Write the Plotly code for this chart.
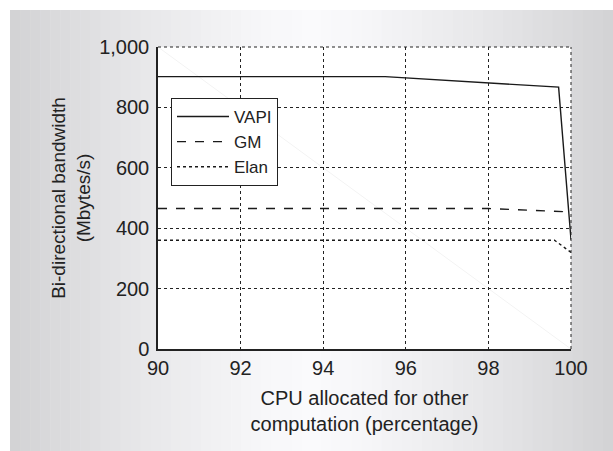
import plotly.graph_objects as go

# ---- data ----
vapi_x = [90, 95.5, 99.7, 100]
vapi_y = [902, 902, 867, 362]
gm_x = [90, 98, 99.8, 100]
gm_y = [465, 465, 455, 440]
elan_x = [90, 99.6, 99.7, 100]
elan_y = [360, 360, 350, 320]
x_ticks = [90, 92, 94, 96, 98, 100]
y_ticks = [0, 200, 400, 600, 800, 1000]
y_ticktext = ["0", "200", "400", "600", "800", "1,000"]

W, H = 613, 451
L, R, T, B = 158, 571, 47, 349

def px(x):
    return (x - L) / (R - L)

def py(y):
    return (B - y) / (B - T)

fig = go.Figure()
line_col = "#1a1a1a"
fig.add_trace(go.Scatter(x=vapi_x, y=vapi_y, mode="lines", name="VAPI",
                         line=dict(color=line_col, width=1.4, dash="solid")))
fig.add_trace(go.Scatter(x=gm_x, y=gm_y, mode="lines", name="GM",
                         line=dict(color=line_col, width=1.4, dash="dash")))
fig.add_trace(go.Scatter(x=elan_x, y=elan_y, mode="lines", name="Elan",
                         line=dict(color=line_col, width=1.4, dash="dot")))

shapes = []
# gradient gray panel made of vertical strips
x0p, x1p, y0p, y1p = 10, W, 10, H
n = 60
cx = (x0p + x1p) / 2
half = (x1p - x0p) / 2
for i in range(n):
    a = x0p + (x1p - x0p) * i / n
    b = x0p + (x1p - x0p) * (i + 1) / n
    t = abs((a + b) / 2 - cx) / half
    c = int(round(250 - 40 * t ** 1.3))
    col = f"rgb({c},{c},{min(255, c + 2)})"
    shapes.append(dict(type="rect", xref="paper", yref="paper",
                       x0=px(a), x1=px(b + 0.5), y0=py(y1p), y1=py(y0p),
                       fillcolor=col, line=dict(width=0), layer="below"))
# white plot area
shapes.append(dict(type="rect", xref="paper", yref="paper", x0=0, x1=1, y0=0, y1=1,
                   fillcolor="white", line=dict(width=0), layer="below"))
# faint diagonal artifact
shapes.append(dict(type="line", xref="paper", yref="paper", x0=0, y0=1, x1=1, y1=0,
                   line=dict(color="#f3f3f3", width=1), layer="below"))
# dotted top and right edges
shapes.append(dict(type="line", xref="paper", yref="paper", x0=0, y0=1, x1=1, y1=1,
                   line=dict(color="#222", width=1, dash="dot")))
shapes.append(dict(type="line", xref="paper", yref="paper", x0=1, y0=0, x1=1, y1=1,
                   line=dict(color="#222", width=1, dash="dot")))

font_fam = "Liberation Sans, Arial, sans-serif"
fig.update_layout(
    width=W, height=H,
    margin=dict(l=L, r=W - R, t=T, b=H - B),
    paper_bgcolor="white",
    plot_bgcolor="white",
    font=dict(family=font_fam, color="#222", size=20),
    shapes=shapes,
    showlegend=True,
    legend=dict(x=px(171), y=py(98), xanchor="left", yanchor="top",
                bgcolor="white", bordercolor="#222", borderwidth=1,
                font=dict(size=17, family=font_fam, color="#222"),
                tracegroupgap=0, itemwidth=52),
    xaxis=dict(range=[90, 100], tickvals=x_ticks, ticks="", showline=True,
               linecolor="#222", linewidth=1.5, showgrid=True, gridcolor="#222",
               griddash="dot", gridwidth=1, zeroline=False,
               tickfont=dict(size=20), ticklabelstandoff=0,
               title=dict(text="CPU allocated for other<br>computation (percentage)",
                          font=dict(size=20), standoff=13)),
    yaxis=dict(range=[0, 1000], tickvals=y_ticks, ticktext=y_ticktext, ticks="",
               showline=True, linecolor="#222", linewidth=1.5, showgrid=True,
               gridcolor="#222", griddash="dot", gridwidth=1, zeroline=False,
               tickfont=dict(size=20), ticklabelstandoff=3,
               title=dict(text="Bi-directional bandwidth<br>(Mbytes/s)",
                          font=dict(size=19), standoff=4)),
)

fig.write_html("out.html")
